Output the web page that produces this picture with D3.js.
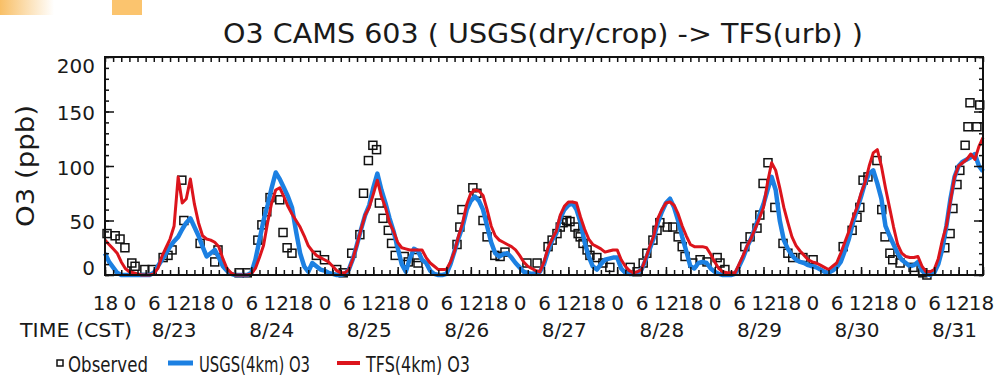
<!DOCTYPE html>
<html>
<head>
<meta charset="utf-8">
<script src="https://cdn.jsdelivr.net/npm/d3@7"></script>
<style>
  body { margin: 0; background: #fff; }
  svg { display: block; }
  text { font-family: "DejaVu Sans", sans-serif; fill: #1a1a1a; }
</style>
</head>
<body>
<div id="chart"></div>
<script>
// hours are counted from 8/22 18:00 CST
let hourLabels = ["18", "0", "6", "12"];
let dayLabels = ["8/23", "8/24", "8/25", "8/26", "8/27", "8/28", "8/29", "8/30", "8/31"];

// USGS(4km) O3, hourly from h=0
let usgsO3 = [
  20, 12, 7, 2, 0, 0,
  0, 0, 0, 0, 0, 0, 2, 8, 14, 20, 26, 31, 35, 42, 48, 52, 44, 36, 26, 17, 20, 23, 16, 8,
  4, 1, 0, 0, 0, 0, 2, 14, 32, 50, 64, 80, 94, 88, 80, 72, 62, 40, 20, 8, 3, 11, 8, 5,
  4, 2, 1, 0, 0, 1, 5, 15, 28, 42, 55, 64, 80, 93, 78, 66, 52, 40, 25, 10, 3, 15, 24, 22,
  14, 11, 4, 1, 0, 0, 1, 10, 22, 34, 45, 60, 68, 72, 68, 60, 45, 30, 20, 17, 19, 20, 16, 11,
  7, 3, 2, 1, 2, 3, 10, 22, 32, 38, 52, 60, 64, 66, 60, 48, 30, 17, 8, 5, 10, 14, 15, 16,
  16, 6, 2, 1, 1, 2, 5, 14, 24, 34, 48, 58, 66, 70, 62, 50, 35, 22, 8, 6, 11, 12, 11, 6,
  3, 1, 0, 0, 0, 1, 8, 16, 26, 34, 44, 55, 65, 78, 90, 78, 50, 32, 24, 18, 14, 12, 11, 9,
  8, 7, 5, 3, 2, 4, 7, 12, 22, 33, 48, 60, 72, 85, 93, 96, 84, 70, 45, 36, 28, 20, 14, 11,
  8, 9, 12, 4, 1, 0, 2, 10, 24, 45, 70, 90, 100, 104, 106, 108, 111, 100, 95
];

// TFS(4km) O3, hourly from h=0
let tfsO3 = [
  32, 28, 24, 20, 12, 6,
  3, 2, 1, 0, 0, 0, 1, 6, 17, 25, 33, 45, 90, 66, 70, 88, 65, 48, 36, 33, 32, 30, 26, 15,
  6, 2, 0, 0, 0, 0, 1, 6, 16, 27, 48, 66, 78, 80, 72, 63, 56, 50, 44, 36, 27, 22, 18, 16,
  14, 12, 8, 4, 2, 2, 5, 15, 28, 42, 55, 62, 74, 87, 72, 62, 48, 40, 30, 25, 24, 23, 23, 23,
  23, 16, 11, 8, 5, 5, 5, 12, 22, 36, 48, 65, 75, 78, 77, 73, 60, 45, 36, 32, 30, 28, 26, 23,
  18, 12, 8, 6, 4, 3, 12, 25, 33, 40, 55, 63, 67, 67, 66, 53, 42, 33, 28, 26, 24, 21, 22, 23,
  23, 14, 8, 4, 2, 3, 5, 15, 26, 36, 52, 60, 66, 67, 64, 56, 45, 36, 28, 26, 26, 26, 25, 19,
  12, 6, 3, 2, 2, 2, 10, 18, 27, 34, 43, 52, 62, 85, 103, 96, 80, 62, 48, 35, 27, 22, 18, 14,
  12, 11, 9, 7, 5, 8, 11, 20, 30, 40, 52, 62, 75, 85, 100, 112, 115, 100, 80, 62, 44, 28, 20, 17,
  16, 16, 17, 8, 3, 3, 5, 15, 32, 45, 68, 90, 100, 103, 106, 111, 106, 118, 126
];

// observed squares
let obsHours = [
  0.5, 2.5, 3.7, 4.9, 6.6, 7.4, 9.8, 11.6, 14.3, 15.5, 16.5, 18.9, 19.4, 23.4, 27, 27.8,
  33, 35, 37.6, 38.6, 39.8, 40.6, 43, 43.8, 44.8, 46, 52, 54,
  57, 58.6, 60.7, 62.7, 63.6, 64.8, 65.9, 66.8, 67.5, 68.4, 69.7, 70.5, 71.4, 73.6, 74.6, 76.7, 77,
  86.6, 87.3, 87.8, 90.5, 91.5, 93, 94, 95.9, 97.2, 98.4, 103.8, 106.3,
  109, 110, 111.2, 112, 112.7, 113.6, 114.4, 115.6, 116.4, 116.9, 117.6, 118.6, 119.3, 121, 122.5, 124.2,
  129.2, 130.9, 132.4, 133.3, 134.8, 135.8,
  136.5, 138.3, 139.7, 141, 142, 142.7, 144.6, 146.4, 148.1, 150.6, 151.3, 152.5,
  157.4, 158.7, 160.4, 161.1, 161.9, 163.1, 164.8, 166.8, 168, 169.2, 171.7, 174.2,
  181.6, 183.8, 185, 185.7, 186.5, 187.7, 189.9, 191.1, 191.9, 193.1, 193.8, 195.6, 198.8, 201.2, 202.2,
  206.6, 207.9, 208.6, 209.6, 210.3, 211.6, 212.3, 214.5, 212.8, 215.2
];
let obsValues = [
  38, 36, 33, 25, 11, 8, 5, 5, 16, 18, 23, 87, 50, 29, 12, 23,
  2, 2, 32, 46, 58, 71, 69, 39, 25, 20, 18, 14,
  5, 2, 20, 37, 75, 105, 119, 115, 66, 52, 41, 29, 18, 17, 12, 16, 11,
  28, 44, 60, 80, 75, 50, 35, 18, 17, 21, 11, 11,
  26, 32, 38, 44, 48, 50, 49, 44, 38, 35, 29, 23, 18, 16, 11, 7,
  7, 3, 11, 20, 32, 41,
  48, 44, 44, 35, 26, 17, 11, 14, 12, 16, 11, 5,
  26, 35, 43, 55, 84, 103, 62, 29, 20, 16, 16, 14,
  26, 41, 53, 62, 87, 90, 105, 60, 35, 20, 14, 11, 7, 2, 0,
  25, 38, 61, 83, 96, 119, 136, 136, 158, 156
];

let width = 994;
let height = 378;
let plot = { left: 105, right: 983, top: 57, bottom: 275 };
let blue = "#1c80e2";
let red = "#dc141c";

let svg = d3.select("#chart").append("svg")
  .attr("width", width).attr("height", height);

// orange strips at the top edge
let grad = svg.append("defs").append("linearGradient").attr("id", "fade");
grad.append("stop").attr("offset", "0%").attr("stop-color", "#f8bf66");
grad.append("stop").attr("offset", "100%").attr("stop-color", "#ffffff");
svg.append("rect").attr("x", 0).attr("y", 0).attr("width", 54).attr("height", 15).attr("fill", "url(#fade)");
svg.append("rect").attr("x", 112).attr("y", 0).attr("width", 30).attr("height", 15).attr("fill", "#fbc46e");

let x = d3.scaleLinear().domain([0, 216]).range([plot.left, plot.right]);
let y = d3.scaleLinear().domain([0, 200]).range([plot.bottom, plot.top]);

// title
svg.append("text")
  .attr("x", 223).attr("y", 43)
  .attr("font-size", 27)
  .attr("textLength", 640).attr("lengthAdjust", "spacingAndGlyphs")
  .text("O3 CAMS 603 ( USGS(dry/crop) -> TFS(urb) )");

// y axis label
svg.append("text")
  .attr("transform", "translate(34,166) rotate(-90)")
  .attr("text-anchor", "middle")
  .attr("font-size", 24)
  .attr("textLength", 122).attr("lengthAdjust", "spacingAndGlyphs")
  .text("O3 (ppb)");

// observed squares (drawn under the lines)
svg.append("g").selectAll("rect")
  .data(obsHours.map((h, i) => [h, obsValues[i]]))
  .enter().append("rect")
  .attr("x", d => x(d[0]) - 4)
  .attr("y", d => y(d[1]) - 4)
  .attr("width", 8).attr("height", 8)
  .attr("fill", "none").attr("stroke", "#111").attr("stroke-width", 1.5);

let line = d3.line()
  .x((d, i) => x(i))
  .y(d => y(d));

svg.append("path").datum(usgsO3)
  .attr("d", line)
  .attr("fill", "none").attr("stroke", blue).attr("stroke-width", 4.5)
  .attr("stroke-linejoin", "round");
svg.append("path").datum(tfsO3)
  .attr("d", line)
  .attr("fill", "none").attr("stroke", red).attr("stroke-width", 3)
  .attr("stroke-linejoin", "round");

// axes, ticks pointing into the plot
let minorY = d3.range(0, 201, 10);
let majorY = d3.range(0, 201, 50);
let minorX = d3.range(0, 217, 2);
let majorX = d3.range(0, 217, 6);

function styleAxis(g) {
  g.select(".domain").remove();
  g.selectAll("line").attr("stroke", "#111").attr("stroke-width", 1.5);
}

svg.append("g").attr("transform", `translate(${plot.left},0)`)
  .call(d3.axisLeft(y).tickValues(minorY).tickSize(-4).tickFormat(""))
  .call(styleAxis);
let yAxis = svg.append("g").attr("transform", `translate(${plot.left},0)`)
  .call(d3.axisLeft(y).tickValues(majorY).tickSize(-9).tickPadding(10))
  .call(styleAxis);
yAxis.selectAll("text")
  .attr("font-size", 20).attr("font-family", "DejaVu Sans").attr("fill", "#1a1a1a")
  .attr("dy", d => d == 200 ? "0.75em" : d == 0 ? "-0.05em" : "0.4em");

svg.append("g").attr("transform", `translate(${plot.right},0)`)
  .call(d3.axisRight(y).tickValues(minorY).tickSize(-4).tickFormat(""))
  .call(styleAxis);
svg.append("g").attr("transform", `translate(${plot.right},0)`)
  .call(d3.axisRight(y).tickValues(majorY).tickSize(-9).tickFormat(""))
  .call(styleAxis);

svg.append("g").attr("transform", `translate(0,${plot.top})`)
  .call(d3.axisTop(x).tickValues(minorX).tickSize(-5).tickFormat(""))
  .call(styleAxis);

svg.append("g").attr("transform", `translate(0,${plot.bottom})`)
  .call(d3.axisBottom(x).tickValues(minorX).tickSize(-5).tickFormat(""))
  .call(styleAxis);
let xAxis = svg.append("g").attr("transform", `translate(0,${plot.bottom})`)
  .call(d3.axisBottom(x).tickValues(majorX).tickSize(-8).tickPadding(21)
    .tickFormat((d, i) => hourLabels[i % 4]))
  .call(styleAxis);
xAxis.selectAll("text")
  .attr("font-size", 20).attr("font-family", "DejaVu Sans").attr("fill", "#1a1a1a")
  .attr("dx", d => d == 216 ? -2 : d == 210 ? -2 : 0);

// plot frame
svg.append("rect")
  .attr("x", plot.left).attr("y", plot.top)
  .attr("width", plot.right - plot.left).attr("height", plot.bottom - plot.top)
  .attr("fill", "none").attr("stroke", "#111").attr("stroke-width", 2);

// day labels under the hours
svg.append("g").selectAll("text")
  .data(dayLabels)
  .enter().append("text")
  .attr("x", (d, i) => x(6 + 24 * i + 11))
  .attr("y", 337)
  .attr("text-anchor", "middle")
  .attr("font-size", 20)
  .text(d => d);

svg.append("text")
  .attr("x", 20).attr("y", 337)
  .attr("font-size", 20)
  .attr("textLength", 112).attr("lengthAdjust", "spacingAndGlyphs")
  .text("TIME (CST)");

// legend
let legend = svg.append("g");
legend.append("rect")
  .attr("x", 57).attr("y", 360).attr("width", 6).attr("height", 6)
  .attr("fill", "none").attr("stroke", "#111").attr("stroke-width", 1.5);
legend.append("line")
  .attr("x1", 168).attr("x2", 193).attr("y1", 363).attr("y2", 363)
  .attr("stroke", blue).attr("stroke-width", 5);
legend.append("line")
  .attr("x1", 337).attr("x2", 360).attr("y1", 363).attr("y2", 363)
  .attr("stroke", red).attr("stroke-width", 4);
let legendText = [
  { x: 68, w: 80, t: "Observed" },
  { x: 199, w: 111, t: "USGS(4km) O3" },
  { x: 366, w: 104, t: "TFS(4km) O3" }
];
legend.selectAll("text")
  .data(legendText)
  .enter().append("text")
  .attr("x", d => d.x).attr("y", 372)
  .attr("font-size", 21)
  .attr("textLength", d => d.w).attr("lengthAdjust", "spacingAndGlyphs")
  .text(d => d.t);
</script>
</body>
</html>
